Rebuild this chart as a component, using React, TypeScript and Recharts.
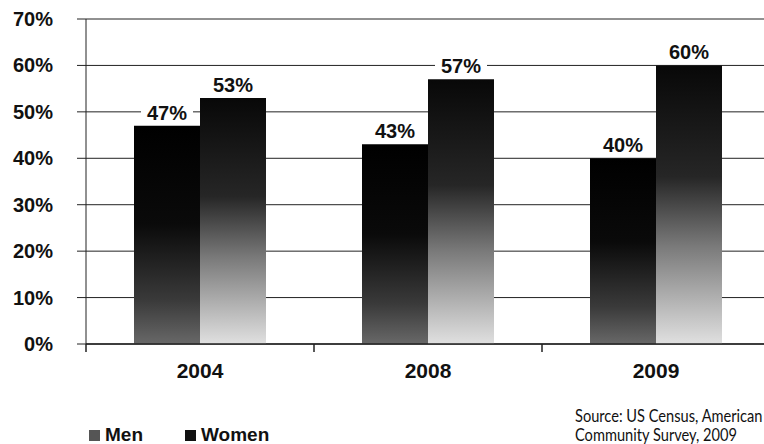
import React from "react";
import { BarChart, Bar, XAxis, YAxis, CartesianGrid, LabelList } from "recharts";

const years = ["2004", "2008", "2009"];
const menPct = [47, 43, 40];
const womenPct = [53, 57, 60];
const yTicks = [0, 10, 20, 30, 40, 50, 60, 70];

const data = years.map((year, i) => ({ year, men: menPct[i], women: womenPct[i] }));

const FONT = "'Liberation Sans', Arial, sans-serif";

const YTick = (props: any) => {
  const { x, y, payload } = props;
  return (
    <g>
      <line x1={x - 9} y1={y} x2={x} y2={y} stroke="#222" strokeWidth={1} />
      <text x={53} y={y + 7} textAnchor="end" fontFamily={FONT} fontWeight="bold" fontSize={20} fill="#111">
        {payload.value}%
      </text>
    </g>
  );
};

const XTick = (props: any) => {
  const { x, y, payload } = props;
  const off = payload.offset ?? 114;
  return (
    <g>
      <line x1={x - off} y1={y} x2={x - off} y2={y + 8} stroke="#222" strokeWidth={1.5} />
      <text x={x} y={y + 34} textAnchor="middle" fontFamily={FONT} fontWeight="bold" fontSize={21} fill="#111">
        {payload.value}
      </text>
    </g>
  );
};

const PctLabel = (props: any) => {
  const { x, y, width, value } = props;
  const cx = x + width / 2;
  return (
    <g>
      <rect x={cx - 26} y={y - 24} width={52} height={20} fill="#fff" />
      <text x={cx} y={y - 6} textAnchor="middle" fontFamily={FONT} fontWeight="bold" fontSize={20} fill="#111">
        {value}%
      </text>
    </g>
  );
};

const Swatch = ({ color }: { color: string }) => (
  <span style={{ display: "inline-block", width: 11, height: 11, background: color, marginRight: 5 }} />
);

export default function App() {
  return (
    <div style={{ position: "absolute", left: 0, top: 0, width: 764, height: 444, background: "#fff", overflow: "hidden" }}>
      <BarChart
        width={764}
        height={444}
        data={data}
        margin={{ top: 19, right: -6, left: 0, bottom: 60 }}
        barCategoryGap={48}
        barGap={0}
      >
        <defs>
          <linearGradient id="menGrad" x1="0" y1="0" x2="0" y2="1">
            <stop offset="0" stopColor="#000" />
            <stop offset="0.45" stopColor="#0a0a0a" />
            <stop offset="0.8" stopColor="#3a3a3a" />
            <stop offset="1" stopColor="#686868" />
          </linearGradient>
          <linearGradient id="womenGrad" x1="0" y1="0" x2="0" y2="1">
            <stop offset="0" stopColor="#080808" />
            <stop offset="0.4" stopColor="#262626" />
            <stop offset="0.65" stopColor="#7a7a7a" />
            <stop offset="1" stopColor="#e0e0e0" />
          </linearGradient>
        </defs>
        <CartesianGrid vertical={false} stroke="#222" strokeWidth={1} />
        <XAxis
          dataKey="year"
          height={40}
          tickSize={0}
          tickMargin={0}
          tickLine={false}
          axisLine={{ stroke: "#222", strokeWidth: 1.5 }}
          tick={<XTick />}
          interval={0}
        />
        <YAxis
          width={86}
          domain={[0, 70]}
          ticks={yTicks}
          tickSize={0}
          tickMargin={0}
          tickLine={false}
          axisLine={{ stroke: "#222", strokeWidth: 1 }}
          tick={<YTick />}
        />
        <Bar dataKey="men" fill="url(#menGrad)" isAnimationActive={false}>
          <LabelList dataKey="men" content={<PctLabel />} />
        </Bar>
        <Bar dataKey="women" fill="url(#womenGrad)" isAnimationActive={false}>
          <LabelList dataKey="women" content={<PctLabel />} />
        </Bar>
      </BarChart>
      <div
        style={{
          position: "absolute",
          left: 89,
          top: 424,
          fontFamily: FONT,
          fontWeight: "bold",
          fontSize: 19,
          color: "#111",
          display: "flex",
          alignItems: "center",
          whiteSpace: "nowrap",
        }}
      >
        <Swatch color="#555" />
        <span style={{ marginRight: 42 }}>Men</span>
        <Swatch color="#111" />
        <span>Women</span>
      </div>
      <div
        style={{
          position: "absolute",
          left: 575,
          top: 406,
          fontFamily: "Lato, 'Open Sans', sans-serif",
          fontSize: 17,
          lineHeight: "19px",
          color: "#111",
          whiteSpace: "nowrap",
          transform: "scaleX(0.86)",
          transformOrigin: "0 0",
        }}
      >
        <div>Source: US Census, American</div>
        <div>Community Survey, 2009</div>
      </div>
    </div>
  );
}
